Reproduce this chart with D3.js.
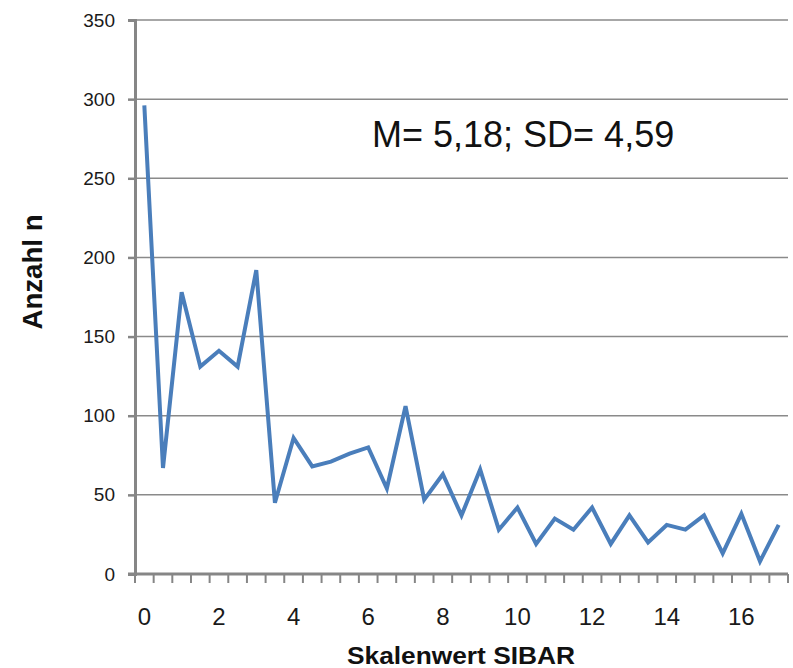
<!DOCTYPE html>
<html>
<head>
<meta charset="utf-8">
<script src="https://cdn.jsdelivr.net/npm/d3@7"></script>
<style>
  body { margin: 0; background: #fff; }
  svg { display: block; font-family: "Liberation Sans", Arial, sans-serif; }
  .grid line { stroke: #8a8a8a; stroke-width: 1.5; }
</style>
</head>
<body>
<svg id="chart" width="793" height="668"></svg>
<script>
// Skalenwerte (categories) and counts
const skalenwerte = [0, 0.5, 1, 1.5, 2, 2.5, 3, 3.5, 4, 4.5, 5, 5.5, 6, 6.5, 7, 7.5, 8, 8.5,
                     9, 9.5, 10, 10.5, 11, 11.5, 12, 12.5, 13, 13.5, 14, 14.5, 15, 15.5, 16, 16.5, 17];
const anzahl = [296, 67, 178, 131, 141, 131, 192, 45, 86, 68, 71, 76, 80, 54, 106, 47, 63, 37,
                66, 28, 42, 19, 35, 28, 42, 19, 37, 20, 31, 28, 37, 13, 38, 8, 31];
const xLabels = [0, 2, 4, 6, 8, 10, 12, 14, 16];
const yTicks = [0, 50, 100, 150, 200, 250, 300, 350];
const statText = "M= 5,18; SD= 4,59";

const svg = d3.select("#chart");
const plotLeft = 135, plotRight = 788, plotTop = 20, plotBottom = 574;

const x = d3.scaleBand()
    .domain(skalenwerte)
    .range([plotLeft, plotRight])
    .padding(0);

const y = d3.scaleLinear()
    .domain([0, 350])
    .range([plotBottom, plotTop]);

// horizontal gridlines
svg.append("g")
    .attr("class", "grid")
    .selectAll("line")
    .data(yTicks.slice(1))
    .join("line")
    .attr("x1", plotLeft)
    .attr("x2", plotRight)
    .attr("y1", d => y(d))
    .attr("y2", d => y(d));

// y axis
const yAxis = svg.append("g")
    .attr("transform", `translate(${plotLeft},0)`)
    .call(d3.axisLeft(y).tickValues(yTicks).tickSize(7).tickPadding(13));
yAxis.select(".domain").attr("stroke", "#868686").attr("stroke-width", 3);
yAxis.selectAll(".tick line").attr("stroke", "#868686").attr("stroke-width", 2.5);
yAxis.selectAll(".tick text")
    .attr("fill", "#1a1a1a")
    .style("font-size", "19px");

// x axis: tick marks at category boundaries, labels in category centres
const bounds = d3.range(skalenwerte.length + 1).map(i => plotLeft + i * x.bandwidth());
svg.append("g")
    .selectAll("line")
    .data(bounds)
    .join("line")
    .attr("x1", d => d).attr("x2", d => d)
    .attr("y1", plotBottom).attr("y2", plotBottom + 9)
    .attr("stroke", "#868686")
    .attr("stroke-width", 2);

svg.append("line")
    .attr("x1", plotLeft - 7).attr("x2", plotRight)
    .attr("y1", plotBottom).attr("y2", plotBottom)
    .attr("stroke", "#868686")
    .attr("stroke-width", 3);

svg.append("g")
    .selectAll("text")
    .data(xLabels)
    .join("text")
    .attr("x", d => x(d) + x.bandwidth() / 2)
    .attr("y", 625)
    .attr("text-anchor", "middle")
    .attr("fill", "#1a1a1a")
    .style("font-size", "24px")
    .text(d => d);

// line
const line = d3.line()
    .x((d, i) => x(skalenwerte[i]) + x.bandwidth() / 2)
    .y(d => y(d));

svg.append("path")
    .datum(anzahl)
    .attr("fill", "none")
    .attr("stroke", "#4a7ebb")
    .attr("stroke-width", 4)
    .attr("stroke-linejoin", "miter")
    .attr("d", line);

// stats annotation
svg.append("text")
    .attr("x", 372)
    .attr("y", 147)
    .attr("fill", "#111")
    .style("font-size", "36px")
    .text(statText);

// axis titles
svg.append("text")
    .attr("x", 461)
    .attr("y", 664)
    .attr("text-anchor", "middle")
    .attr("fill", "#111")
    .style("font-size", "23px")
    .style("font-weight", "bold")
    .attr("textLength", 228)
    .attr("lengthAdjust", "spacingAndGlyphs")
    .text("Skalenwert SIBAR");

svg.append("text")
    .attr("transform", "translate(42,272) rotate(-90)")
    .attr("text-anchor", "middle")
    .attr("fill", "#111")
    .style("font-size", "27px")
    .style("font-weight", "bold")
    .attr("textLength", 115)
    .attr("lengthAdjust", "spacingAndGlyphs")
    .text("Anzahl n");
</script>
</body>
</html>
